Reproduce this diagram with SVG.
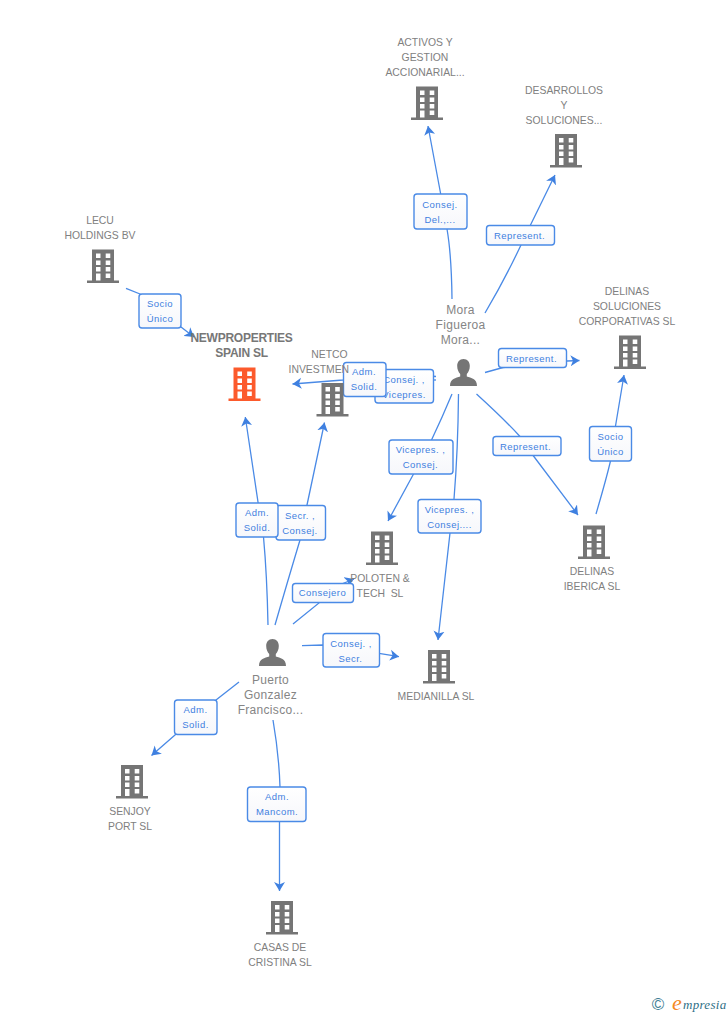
<svg xmlns="http://www.w3.org/2000/svg" width="728" height="1015" viewBox="0 0 728 1015">
<style>
text{font-family:"Liberation Sans",Arial,sans-serif;font-size:10.4px;fill:#808080;text-anchor:middle;white-space:pre}
.p{font-size:12px;letter-spacing:.3px;fill:#858585}
.b{font-weight:bold;font-size:12px;fill:#777;letter-spacing:-.25px}
.l{fill:#3f80e0;font-size:9.5px;letter-spacing:.45px}
.c{fill:none;stroke:#4a8ae6;stroke-width:1.3;marker-end:url(#a)}
.n{fill:none;stroke:#4a8ae6;stroke-width:1.3}
.r{fill:url(#g);stroke:#4a8ae6;stroke-width:1.4}
</style>
<defs>
<linearGradient id="g" x1="0" y1="0" x2="0" y2="1"><stop offset="0" stop-color="#fff"/><stop offset="1" stop-color="#f6f7fb"/></linearGradient>
<marker id="a" markerUnits="userSpaceOnUse" markerWidth="11" markerHeight="12" refX="9" refY="6" orient="auto"><path d="M0 .5L9 6L0 11.500L2.500 6Z" fill="#3f80e0"/></marker>
<symbol id="bld" width="32" height="34" overflow="visible"><path fill-rule="evenodd" d="M5 0H27V31H32V33.500H0V31H5ZM9 4V8.500H13.500V4ZM18.700 4V8.500H23.300V4ZM9 11V15.500H13.500V11ZM18.700 11V15.500H23.300V11ZM9 17.500V22H13.500V17.500ZM18.700 17.500V22H23.300V17.500ZM9 24V31H13.500V24ZM18.700 24V28.500H23.300V24Z"/></symbol>
<symbol id="per" width="27" height="27" overflow="visible"><path d="M13.500 0C17.500 0 19.800 3 19.800 7C19.800 10.500 18.500 13 16.800 15V17.500C21 19 27 19.500 27 27H0C0 19.500 6 19 10.200 17.500V15C8.500 13 7.200 10.500 7.200 7C7.200 3 9.500 0 13.500 0Z"/></symbol>
</defs>
<rect width="728" height="1015" fill="#fff"/>
<g id="connectors">
<path class="c" d="M452 299Q451.500 255 447 229L440.500 193L428 126"/>
<path class="c" d="M485 313Q505 279 521 245L530 226L555 175"/>
<path class="c" d="M485 372.500L503 367.500L567 361L579.500 360.500"/>
<path class="c" d="M596 514Q606 480 610.500 461L615.500 426L624 375"/>
<path class="c" d="M476.500 394Q505 420 519.500 436L533.500 456L578 515"/>
<path class="c" d="M458.500 394Q458 450 454 499L450 533L438 640"/>
<path class="c" d="M452 394Q442 418 431.500 440L413 475L388 521"/>
<path class="n" d="M433 380H436"/>
<path class="c" d="M436 376.500L386 373L343 380L292.500 384"/>
<path class="c" d="M268 625Q267 575 263.500 537L258 502L245.300 417"/>
<path class="c" d="M275 625Q288 580 300 540L307 505L324.500 422.500"/>
<path class="c" d="M293 624L319 603L322 592L354 579"/>
<path class="c" d="M302 645.700L323 645L379 653.300L399 656.700"/>
<path class="c" d="M239 682L216 700L175 735L151.500 755.500"/>
<path class="c" d="M273 720Q279 755 280 787L279.500 822L279.500 891"/>
<path class="c" d="M126 288.300L140 294L181 327L194 337"/>
</g>
<g id="edge-labels">
<g><rect class="r" x="414" y="194" width="53" height="35" rx="3"/><text class="l" x="440" y="208">Consej.</text><text class="l" x="440" y="223">Del.,...</text></g>
<g><rect class="r" x="486.500" y="225.500" width="68" height="19.500" rx="3"/><text class="l" x="519.500" y="239">Represent.</text></g>
<g><rect class="r" x="498.500" y="348.500" width="68" height="19" rx="3"/><text class="l" x="531.500" y="362">Represent.</text></g>
<g><rect class="r" x="589.500" y="426.500" width="42" height="34.500" rx="3"/><text class="l" x="610.500" y="440">Socio</text><text class="l" x="610.500" y="455">Único</text></g>
<g><rect class="r" x="493" y="436.500" width="68" height="19" rx="3"/><text class="l" x="525.500" y="450">Represent.</text></g>
<g><rect class="r" x="418" y="499.500" width="63" height="33.500" rx="3"/><text class="l" x="449.500" y="513">Vicepres. ,</text><text class="l" x="449.500" y="528">Consej....</text></g>
<g><rect class="r" x="389" y="440" width="64" height="34" rx="3"/><text class="l" x="420.500" y="453">Vicepres. ,</text><text class="l" x="420.500" y="468">Consej.</text></g>
<g><rect class="r" x="375" y="369.500" width="58.500" height="33.500" rx="3"/><text class="l" x="404" y="383">Consej. ,</text><text class="l" x="404" y="398">Vicepres.</text></g>
<g><rect class="r" x="343.500" y="362.500" width="42.500" height="34" rx="3"/><text class="l" x="364" y="375">Adm.</text><text class="l" x="364" y="390">Solid.</text></g>
<g><rect class="r" x="276" y="505.500" width="49.500" height="34.500" rx="3"/><text class="l" x="300" y="519">Secr. ,</text><text class="l" x="300" y="534">Consej.</text></g>
<g><rect class="r" x="236" y="503" width="42" height="34" rx="3"/><text class="l" x="257" y="516">Adm.</text><text class="l" x="257" y="531">Solid.</text></g>
<g><rect class="r" x="292.500" y="583.500" width="61" height="19" rx="3"/><text class="l" x="322.500" y="596">Consejero</text></g>
<g><rect class="r" x="323" y="633.500" width="56.500" height="33.500" rx="3"/><text class="l" x="351" y="647">Consej. ,</text><text class="l" x="350.500" y="662">Secr.</text></g>
<g><rect class="r" x="174.500" y="700" width="42.500" height="34.500" rx="3"/><text class="l" x="195.500" y="713">Adm.</text><text class="l" x="195.500" y="728">Solid.</text></g>
<g><rect class="r" x="247.500" y="787" width="58.500" height="34.500" rx="3"/><text class="l" x="277" y="800">Adm.</text><text class="l" x="277" y="815">Mancom.</text></g>
<g><rect class="r" x="139" y="294" width="42" height="34" rx="3"/><text class="l" x="160" y="307">Socio</text><text class="l" x="160" y="322">Único</text></g>
</g>
<g id="newproperties"><text class="b" x="241.500" y="342">NEWPROPERTIES</text><text class="b" x="241.500" y="357">SPAIN SL</text><use href="#bld" x="228.500" y="367.500" fill="#fc5a2c"/></g>
<g id="lecu"><text x="100" y="224">LECU</text><text x="100" y="239">HOLDINGS BV</text><use href="#bld" x="87" y="249.500" fill="#757575"/></g>
<g id="netco"><text x="329.500" y="358">NETCO</text><text x="288.500" y="373" style="text-anchor:start">INVESTMEN</text><use href="#bld" x="316.500" y="383" fill="#757575"/></g>
<g id="activos"><text x="425" y="46">ACTIVOS Y</text><text x="425" y="61">GESTION</text><text x="425" y="76">ACCIONARIAL...</text><use href="#bld" x="411" y="86.500" fill="#757575"/></g>
<g id="desarrollos"><text x="564" y="94">DESARROLLOS</text><text x="564" y="109">Y</text><text x="564" y="124">SOLUCIONES...</text><use href="#bld" x="550" y="134" fill="#757575"/></g>
<g id="delinas-sol"><text x="627" y="295">DELINAS</text><text x="627" y="310">SOLUCIONES</text><text x="627" y="325">CORPORATIVAS SL</text><use href="#bld" x="614" y="335.500" fill="#757575"/></g>
<g id="delinas-ib"><use href="#bld" x="578" y="525.500" fill="#757575"/><text x="592" y="575">DELINAS</text><text x="592" y="590">IBERICA SL</text></g>
<g id="poloten"><use href="#bld" x="366" y="531.500" fill="#757575"/><text x="380" y="582">POLOTEN &amp;</text><text x="380" y="597">TECH  SL</text></g>
<g id="medianilla"><use href="#bld" x="423" y="650" fill="#757575"/><text x="436" y="700">MEDIANILLA SL</text></g>
<g id="senjoy"><use href="#bld" x="116" y="765" fill="#757575"/><text x="130" y="815">SENJOY</text><text x="130" y="830">PORT SL</text></g>
<g id="casas"><use href="#bld" x="266" y="901" fill="#757575"/><text x="280" y="951">CASAS DE</text><text x="280" y="966">CRISTINA SL</text></g>
<g id="mora"><text class="p" x="460.500" y="314">Mora</text><text class="p" x="460.500" y="329">Figueroa</text><text class="p" x="460.500" y="344">Mora...</text><use href="#per" x="450" y="359" fill="#757575"/></g>
<g id="puerto"><use href="#per" x="259" y="639" fill="#757575"/><text class="p" x="270.500" y="684">Puerto</text><text class="p" x="270.500" y="699">Gonzalez</text><text class="p" x="270.500" y="714">Francisco...</text></g>
<g id="logo"><text x="658" y="1010" style="font-size:17px;fill:#3f7f96">©</text><text x="672" y="1010" style="font-family:'Liberation Serif',serif;font-size:22px;font-style:italic;fill:#f58a1f;text-anchor:start">e</text><text x="683" y="1009" style="font-family:'Liberation Serif',serif;font-size:13px;font-style:italic;fill:#2f6f86;text-anchor:start;letter-spacing:.3px">mpresia</text></g>
</svg>
